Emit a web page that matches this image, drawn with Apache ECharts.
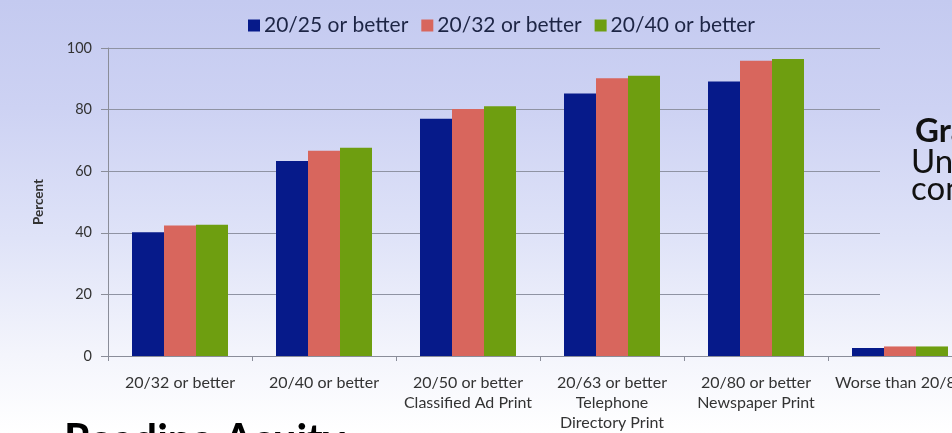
<!DOCTYPE html>
<html>
<head>
<meta charset="utf-8">
<script src="https://cdn.jsdelivr.net/npm/echarts@6/dist/echarts.min.js"></script>
<style>
  html, body { margin: 0; padding: 0; width: 952px; height: 433px; overflow: hidden; background: #fff; }
  #chart { width: 990px; height: 433px; }
</style>
</head>
<body>
<div id="chart"></div>
<script>
const categories = [
  '20/32 or better',
  '20/40 or better',
  '20/50 or better\nClassified Ad Print',
  '20/63 or better\nTelephone\nDirectory Print',
  '20/80 or better\nNewspaper Print',
  'Worse than 20/80'
];
const seriesNames = ['20/25 or better', '20/32 or better', '20/40 or better'];
const acuity2025 = [40.2, 63.3, 77.0, 85.2, 89.1, 2.6];
const acuity2032 = [42.4, 66.6, 80.2, 90.2, 95.9, 3.1];
const acuity2040 = [42.6, 67.6, 81.1, 91.0, 96.4, 3.1];
const yTicks = [0, 20, 40, 60, 80, 100];

const colors = ['#061a8a', '#d8665d', '#6e9e10'];
const bgGradient = () => ({
  type: 'linear', x: 0, y: 0, x2: 0, y2: 433, global: true,
  colorStops: [
    { offset: 0, color: '#c4caf0' },
    { offset: 0.25, color: '#cdd2f3' },
    { offset: 0.55, color: '#dfe3f8' },
    { offset: 0.82, color: '#f4f5fc' },
    { offset: 1, color: '#ffffff' }
  ]
});

const chart = echarts.init(document.getElementById('chart'), null, { renderer: 'canvas' });
const font = 'Lato, "Open Sans", sans-serif';
const values = [acuity2025, acuity2032, acuity2040];

chart.setOption({
  animation: false,
  backgroundColor: bgGradient(),
  color: colors,
  legend: {
    left: 243, top: 10,
    itemWidth: 12, itemHeight: 12, itemGap: 13,
    icon: 'rect',
    textStyle: { fontFamily: font, fontSize: 21, color: '#1d2545', padding: [0, 0, 0, -1] },
    data: seriesNames
  },
  grid: { left: 108, top: 48, width: 864, height: 310, containLabel: false },
  xAxis: {
    type: 'category',
    data: categories,
    axisLine: { lineStyle: { color: '#8a8d99', width: 1 } },
    axisTick: { show: true, length: 5, lineStyle: { color: '#8a8d99' } },
    axisLabel: { fontFamily: font, fontSize: 16, color: '#333', lineHeight: 20, margin: 17, interval: 0 }
  },
  yAxis: {
    type: 'value', min: 0, max: 100, interval: 20,
    name: 'Percent', nameLocation: 'middle', nameGap: 62, nameRotate: 90,
    nameTextStyle: { fontFamily: font, fontSize: 13.5, fontWeight: 'bold', color: '#333' },
    axisLine: { show: true, lineStyle: { color: '#8a8d99' } },
    axisTick: { show: true, length: 7, lineStyle: { color: '#8a8d99' } },
    axisLabel: { fontFamily: font, fontSize: 14.5, color: '#333', margin: 16,
      formatter: (v) => yTicks.includes(v) ? String(v) : '' },
    splitLine: { lineStyle: { color: '#8f93a3', width: 1 } }
  },
  series: seriesNames.map((n, i) => ({
    name: n, type: 'bar', data: values[i], barWidth: 32, barGap: '0%',
    itemStyle: { color: colors[i] }
  })),
  graphic: [
    { type: 'rect', shape: { x: 880, y: 40, width: 110, height: 302 },
      style: { fill: bgGradient() }, z: 100 },
    { type: 'text', x: 915, y: 115, z: 101,
      style: { text: 'Graph', font: 'bold 33px ' + font, fill: '#111', verticalAlign: 'top' } },
    { type: 'text', x: 911, y: 146, z: 101,
      style: { text: 'Under', font: '33px ' + font, fill: '#111', verticalAlign: 'top' } },
    { type: 'text', x: 911, y: 173, z: 101,
      style: { text: 'con', font: '33px ' + font, fill: '#111', verticalAlign: 'top' } },
    { type: 'text', x: 64, y: 419, z: 101,
      style: { text: 'Reading Acuity', font: 'bold 42px ' + font, fill: '#000', verticalAlign: 'top' } }
  ]
});
</script>
</body>
</html>
